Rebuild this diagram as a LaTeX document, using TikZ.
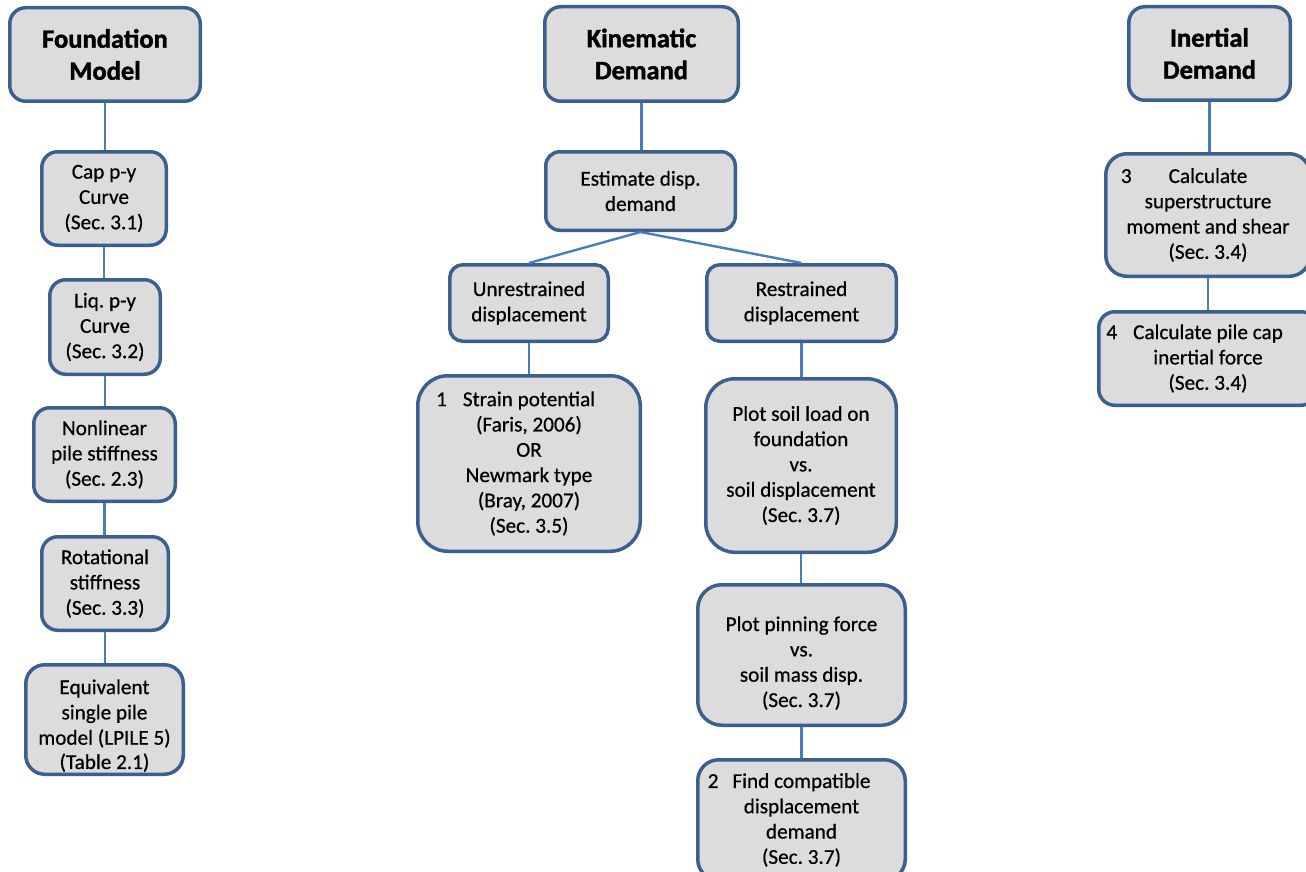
\documentclass[tikz,border=0pt]{standalone}
\usepackage{fontspec}
\setmainfont{Carlito}[RawFeature={embolden=0.6}]
\newfontfamily\titlefont{Carlito Bold}[FakeBold=1.5]
\frenchspacing
\definecolor{boxblue}{HTML}{3B5F8E}
\definecolor{boxfill}{HTML}{DCDCDC}
\definecolor{linkblue}{HTML}{4A7EBB}
\tikzset{
  box/.style={draw=boxblue, line width=3.5pt, fill=boxfill, align=center, inner sep=0pt,
    font=\fontsize{21.2}{25.3}\selectfont},
  titlebox/.style={box, font=\titlefont\bfseries\fontsize{26.5}{32}\selectfont},
  link/.style={draw=linkblue, line width=2.4pt}
}
% [style] name x1 y1 x2 y2 radius text
\newcommand\bx[8][box]{%
  \node[#1, minimum width={(#5-#3-3.5)*1pt}, minimum height={(#6-#4-3.5)*1pt},
        rounded corners=#7pt] (#2) at ({(#3+#5)/2},{(#4+#6)/2}) {#8};}
\begin{document}
\begin{tikzpicture}[x=1pt,y=-1pt]
\useasboundingbox (0,0) rectangle (1306,872);
\clip (0,0) rectangle (1306,872);

% Foundation column
\bx[titlebox]{fm}{8}{6}{202}{103}{16}{Foundation\\Model}
\bx{cap}{40}{150}{168}{247}{16}{Cap p-y\\Curve\\(Sec. 3.1)}
\bx{liq}{48}{278}{162}{376}{16}{Liq. p-y\\Curve\\(Sec. 3.2)}
\bx{nl}{32}{406}{177}{503}{16}{Nonlinear\\pile stiffness\\(Sec. 2.3)}
\bx{rot}{40}{535}{170}{632}{16}{Rotational\\stiffness\\(Sec. 3.3)}
\bx{eq}{24}{663}{185}{776}{19}{\rule{0pt}{27pt}Equivalent\\single pile\\model (LPILE 5)\\[-1pt](Table 2.1)}

% Kinematic column
\bx[titlebox]{kd}{543}{5}{740}{103}{16}{Kinematic\\Demand}
\bx{est}{544}{150}{737}{232}{14}{Estimate disp.\\demand}
\bx{unr}{448}{263}{610}{343}{13}{Unrestrained\\displacement}
\bx{res}{705}{263}{898}{343}{13}{Restrained\\displacement}
\bx{str}{416}{374}{642}{553}{30}{\llap{1\hspace{16pt}}Strain potential\\(Faris, 2006)\\OR\\Newmark type\\(Bray, 2007)\\(Sec. 3.5)}
\bx{soil}{704}{377}{898}{554}{29}{Plot soil load on\\foundation\\vs.\\soil displacement\\(Sec. 3.7)}
\bx{pin}{696}{583}{907}{727}{24}{\rule{0pt}{31pt}Plot pinning force\\vs.\\soil mass disp.\\(Sec. 3.7)}
\bx{find}{696}{758}{907}{882}{21}{\llap{2\hspace{14pt}}Find compatible\\displacement\\demand\\(Sec. 3.7)}

% Inertial column
\bx[titlebox]{id}{1127}{5}{1292}{102}{16}{Inertial\\Demand}
\bx{sup}{1104}{152}{1312}{278}{21}{\llap{3\hspace{37pt}}Calculate\\superstructure\\moment and shear\\(Sec. 3.4)}
\bx{pc}{1097}{310}{1319}{407}{16}{\llap{4\hspace{16pt}}Calculate pile cap\\inertial force\\(Sec. 3.4)}

\draw[link] (fm.south) -- (fm.south |- cap.north);
\draw[link] (cap.south) -- (cap.south |- liq.north);
\draw[link] (liq.south) -- (liq.south |- nl.north);
\draw[link] (nl.south) -- (nl.south |- rot.north);
\draw[link] (rot.south) -- (rot.south |- eq.north);

\draw[link] (kd.south) -- (kd.south |- est.north);
\draw[link] (est.south) -- (unr.north);
\draw[link] (est.south) -- (res.north);
\draw[link] (unr.south) -- (unr.south |- str.north);
\draw[link] (res.south) -- (res.south |- soil.north);
\draw[link] (soil.south) -- (soil.south |- pin.north);
\draw[link] (pin.south) -- (pin.south |- find.north);

\draw[link] (id.south) -- (id.south |- sup.north);
\draw[link] (sup.south) -- (sup.south |- pc.north);
\end{tikzpicture}
\end{document}
